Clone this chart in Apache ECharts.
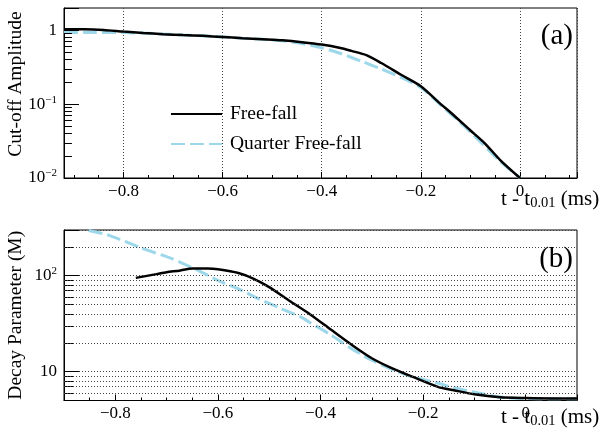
<!DOCTYPE html>
<html>
<head>
<meta charset="utf-8">
<script src="https://cdn.jsdelivr.net/npm/echarts@6/dist/echarts.min.js"></script>
<style>
  html, body { margin: 0; padding: 0; background: #fff; }
  #chart { width: 608px; height: 437px; }
</style>
</head>
<body>
<div id="chart"></div>
<script>
// (a) cut-off amplitude
const ampTimeFree = [-0.92, -0.88, -0.84, -0.80, -0.76, -0.72, -0.68, -0.64, -0.60, -0.56, -0.52, -0.48, -0.44, -0.40, -0.36, -0.34, -0.31, -0.28, -0.24, -0.20, -0.16, -0.14, -0.10, -0.07, -0.04, 0.0];
const ampFree = [1.03, 1.03, 1.01, 0.96, 0.92, 0.885, 0.86, 0.84, 0.81, 0.78, 0.755, 0.73, 0.69, 0.64, 0.57, 0.525, 0.46, 0.36, 0.25, 0.175, 0.10, 0.077, 0.044, 0.029, 0.0175, 0.01];
const ampTimeQuarter = [-0.92, -0.86, -0.80, -0.74, -0.68, -0.62, -0.56, -0.52, -0.48, -0.44, -0.40, -0.36, -0.32, -0.28, -0.24, -0.20, -0.16, -0.12, -0.08, -0.04, 0.0];
const ampQuarter = [0.93, 0.935, 0.93, 0.90, 0.86, 0.83, 0.78, 0.755, 0.72, 0.66, 0.58, 0.48, 0.38, 0.30, 0.23, 0.168, 0.097, 0.056, 0.031, 0.0168, 0.01];

// (b) decay parameter
const decayTimeFree = [-0.76, -0.72, -0.70, -0.675, -0.65, -0.62, -0.60, -0.56, -0.53, -0.50, -0.46, -0.42, -0.38, -0.34, -0.30, -0.26, -0.22, -0.17, -0.14, -0.10, -0.05, 0.0, 0.05, 0.1];
const decayFree = [95, 104, 109, 113, 119, 119, 117, 107, 93, 76, 54.5, 39.5, 27.5, 19.2, 13.8, 10.8, 8.8, 6.9, 6.4, 5.8, 5.4, 5.3, 5.25, 5.25];
const decayTimeQuarter = [-0.852, -0.812, -0.754, -0.688, -0.672, -0.636, -0.597, -0.558, -0.519, -0.479, -0.44, -0.42, -0.381, -0.342, -0.303, -0.263, -0.224, -0.172, -0.14, -0.08, -0.04, 0.0, 0.05, 0.1];
const decayQuarter = [297, 264, 199, 150, 137, 112, 88, 72, 57, 46, 37.4, 32.4, 24.4, 17.7, 13.4, 10.7, 8.9, 7.6, 6.8, 5.8, 5.35, 5.25, 5.2, 5.2];

const seriesNames = ['Free-fall', 'Quarter Free-fall'];
const minorTicksA = [0.02, 0.03, 0.04, 0.05, 0.06, 0.07, 0.08, 0.09, 0.2, 0.3, 0.4, 0.5, 0.6, 0.7, 0.8, 0.9];
const minorTicksB = [6, 7, 8, 9, 20, 30, 40, 50, 60, 70, 80, 90, 200];

const xRangeA = [-0.92, 0.115];
const xRangeB = [-0.9, 0.1];
const yRangeA = [0.01, 2];
const yRangeB = [5, 300];

const FONT = 'Liberation Serif';
const CYAN = '#9dd8ea';
const GRID_DOT = { type: [1, 2], color: '#444', width: 1 };

const zip = (xs, ys) => xs.map((x, i) => [x, ys[i]]);

function xLabel(v) {
  const k = Math.round(v * 5);
  if (Math.abs(v * 5 - k) > 1e-6) return '';
  if (k === 0) return '0';
  return (v < 0 ? '\u2212' : '') + Math.abs(v).toFixed(1);
}

function logLabel(v) {
  const e = Math.log10(v);
  const k = Math.round(e);
  if (Math.abs(e - k) > 1e-6) return '';
  if (k === 0) return '{b|1}';
  if (k === 1) return '{b|10}';
  return '{b|10}{sup|' + (k < 0 ? '\u2212' : '') + Math.abs(k) + '}';
}

const labelRich = {
  b: { fontFamily: FONT, fontSize: 17, color: '#000', lineHeight: 20 },
  sup: { fontFamily: FONT, fontSize: 11, color: '#000', lineHeight: 11, verticalAlign: 'top' }
};
const nameRich = {
  m: { fontFamily: FONT, fontSize: 21, color: '#000', lineHeight: 22, padding: [0, 0, 6, 0], verticalAlign: 'top' },
  s: { fontFamily: FONT, fontSize: 14.5, color: '#000', lineHeight: 14, verticalAlign: 'bottom' }
};
const xName = '{m|t - t}{s|0.01}{m| (ms)}';

function xAxisCfg(idx, range, grid, namePad) {
  return {
    type: 'value', gridIndex: idx, min: range[0], max: range[1], splitNumber: 5,
    axisLine: { onZero: false, lineStyle: { color: '#000', width: 1 } },
    axisTick: { inside: true, length: 6, lineStyle: { color: '#000' } },
    minorTick: { show: true, splitNumber: 4, length: 3, lineStyle: { color: '#000' } },
    axisLabel: { formatter: xLabel, margin: 5, fontFamily: FONT, fontSize: 17, color: '#000' },
    splitLine: { show: grid, lineStyle: GRID_DOT },
    name: xName, nameLocation: 'end', nameGap: -76, nameMoveOverlap: false,
    nameTextStyle: { verticalAlign: 'top', padding: [namePad, 0, 0, 0], rich: nameRich }
  };
}

function yAxisCfg(idx, range, name, grid, shift) {
  return {
    type: 'log', logBase: 10, gridIndex: idx, min: range[0], max: range[1],
    axisLine: { onZero: false, lineStyle: { color: '#000', width: 1 } },
    axisTick: { inside: true, length: 15, lineStyle: { color: '#000' } },
    axisLabel: { formatter: logLabel, margin: 7, rich: labelRich },
    splitLine: { show: grid, lineStyle: GRID_DOT },
    name: name, nameLocation: 'middle', nameGap: 38, nameMoveOverlap: false,
    nameTextStyle: { fontFamily: FONT, fontSize: 19.5, color: '#000', padding: [0, 0, 0, shift] }
  };
}

function minorTickLines(ticks, x0, len) {
  return ticks.map(v => [
    { coord: [x0, v], lineStyle: { color: '#000', width: 1, type: 'solid' } },
    { coord: [x0 + len, v] }
  ]);
}

const markBase = { silent: true, symbol: ['none', 'none'], label: { show: false }, emphasis: { disabled: true }, animation: false };

const chart = echarts.init(document.getElementById('chart'), null, { renderer: 'canvas' });
chart.setOption({
  animation: false,
  backgroundColor: '#fff',
  title: [
    { text: '(a)', right: 35, top: 22, padding: 0, textStyle: { fontFamily: FONT, fontSize: 29, fontWeight: 'normal', color: '#000' } },
    { text: '(b)', right: 35, top: 245, padding: 0, textStyle: { fontFamily: FONT, fontSize: 29, fontWeight: 'normal', color: '#000' } }
  ],
  legend: {
    data: seriesNames, orient: 'vertical', left: 165, top: 99,
    itemWidth: 51, itemHeight: 18, itemGap: 10,
    itemStyle: { opacity: 0 },
    textStyle: { fontFamily: FONT, fontSize: 19.5, color: '#000', padding: [0, 0, 0, 3] }
  },
  grid: [
    { left: 64, top: 8, right: 31, height: 170, show: true, borderColor: '#000', borderWidth: 1, containLabel: false, outerBoundsMode: 'none' },
    { left: 64, top: 230, right: 31, height: 170.5, show: true, borderColor: '#000', borderWidth: 1, containLabel: false, outerBoundsMode: 'none' }
  ],
  xAxis: [
    xAxisCfg(0, xRangeA, true, 11),
    xAxisCfg(1, xRangeB, false, 6)
  ],
  yAxis: [
    yAxisCfg(0, yRangeA, 'Cut-off Amplitude', false, 18),
    yAxisCfg(1, yRangeB, 'Decay Parameter (M)', true, 0)
  ],
  series: [
    {
      name: seriesNames[0], type: 'line', xAxisIndex: 0, yAxisIndex: 0,
      data: zip(ampTimeFree, ampFree), symbol: 'none', z: 3, smooth: 0.25,
      lineStyle: { color: '#000', width: 2.5 }, itemStyle: { color: '#000' },
      markLine: Object.assign({}, markBase, { data: minorTickLines(minorTicksA, xRangeA[0], 0.016) })
    },
    {
      name: seriesNames[1], type: 'line', xAxisIndex: 0, yAxisIndex: 0,
      data: zip(ampTimeQuarter, ampQuarter), symbol: 'none', z: 2, smooth: 0.25,
      lineStyle: { color: CYAN, width: 3, type: [14, 5] }, itemStyle: { color: CYAN }
    },
    {
      name: seriesNames[0], type: 'line', xAxisIndex: 1, yAxisIndex: 1,
      data: zip(decayTimeFree, decayFree), symbol: 'none', z: 3, smooth: 0.25,
      lineStyle: { color: '#000', width: 2.5 }, itemStyle: { color: '#000' },
      markLine: Object.assign({}, markBase, {
        data: minorTickLines(minorTicksB, xRangeB[0], 0.0176).concat(
          minorTicksB.map(v => ({ yAxis: v, lineStyle: GRID_DOT })))
      })
    },
    {
      name: seriesNames[1], type: 'line', xAxisIndex: 1, yAxisIndex: 1,
      data: zip(decayTimeQuarter, decayQuarter), symbol: 'none', z: 2, smooth: 0.25,
      lineStyle: { color: CYAN, width: 3, type: [14, 5] }, itemStyle: { color: CYAN }
    }
  ]
});
</script>
</body>
</html>
